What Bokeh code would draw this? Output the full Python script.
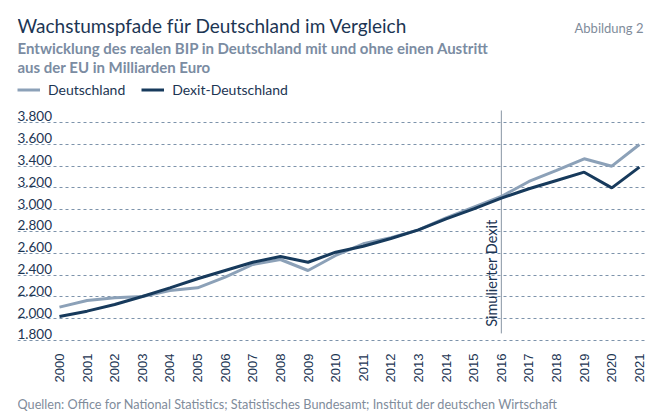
import math
from bokeh.plotting import figure
from bokeh.models import (Label, Legend, LegendItem, FixedTicker, Range1d)
from bokeh.embed import file_html
from bokeh.resources import INLINE

# ---- data ----
years = list(range(2000, 2022))
deutschland = [2106, 2167, 2192, 2204, 2259, 2283, 2381, 2497, 2543, 2442, 2580,
               2687, 2742, 2815, 2925, 3023, 3121, 3259, 3360, 3467, 3399, 3598]
dexit = [2020, 2069, 2130, 2204, 2283, 2366, 2442, 2518, 2571, 2518, 2610,
         2665, 2736, 2815, 2916, 3008, 3106, 3192, 3268, 3344, 3200, 3390]
y_ticks = [1800, 2000, 2200, 2400, 2600, 2800, 3000, 3200, 3400, 3600, 3800]
y_tick_labels = ["1.800", "2.000", "2.200", "2.400", "2.600", "2.800",
                 "3.000", "3.200", "3.400", "3.600", "3.800"]
x_tick_labels = [str(y) for y in years]
dexit_year = 2016

title = "Wachstumspfade für Deutschland im Vergleich"
subtitle1 = "Entwicklung des realen BIP in Deutschland mit und ohne einen Austritt"
subtitle2 = "aus der EU in Milliarden Euro"
fig_no = "Abbildung 2"
source = "Quellen: Office for National Statistics; Statistisches Bundesamt; Institut der deutschen Wirtschaft"
dexit_label = "Simulierter Dexit"

# ---- style ----
NAVY = "#1c3553"
LIGHT = "#8ca1b8"
DARK = "#173a5c"
GREY = "#7f8c9b"
SUB = "#7b8ca2"
FONT = "Lato"

W, H = 660, 414
p = figure(width=W, height=H, output_backend="svg", toolbar_location=None,
           x_range=Range1d(1998.48, 2021.22), y_range=Range1d(1121, 4919),
           min_border_left=17, min_border_right=15, min_border_top=0,
           min_border_bottom=0)
p.outline_line_color = None
p.background_fill_color = None
p.border_fill_color = "white"
p.xaxis.visible = False
p.yaxis.visible = False

# grid
p.xgrid.grid_line_color = None
p.ygrid.ticker = FixedTicker(ticks=y_ticks)
p.ygrid.grid_line_color = "#7d93ab"
p.ygrid.grid_line_dash = "3 3"
p.ygrid.grid_line_width = 1

# dexit marker
p.segment(x0=[dexit_year], y0=[1865], x1=[dexit_year], y1=[3910],
          line_color="#8794a3", line_width=1)
p.add_layout(Label(x=dexit_year, y=1925, text=dexit_label, angle=math.pi / 2,
                   text_align="left", text_baseline="bottom", x_offset=-1,
                   text_font=FONT, text_font_size="14.5px", text_color=NAVY))

r1 = p.line(years, deutschland, line_color=LIGHT, line_width=3)
r2 = p.line(years, dexit, line_color=DARK, line_width=3)

# y tick labels
for v, t in zip(y_ticks, y_tick_labels):
    p.add_layout(Label(x=0, y=v, x_units="screen", y_units="data", text=t,
                       text_align="left", text_baseline="bottom", y_offset=1,
                       text_font=FONT, text_font_size="13.5px", text_color=NAVY))

# x tick labels (vertical)
for yr, t in zip(years, x_tick_labels):
    p.add_layout(Label(x=yr, y=H - 353, x_units="data", y_units="screen", text=t,
                       angle=math.pi / 2, text_align="right", text_baseline="middle",
                       text_font="Liberation Sans", text_font_size="13px",
                       text_color=NAVY))

legend = Legend(items=[LegendItem(label="Deutschland", renderers=[r1]),
                       LegendItem(label="Dexit-Deutschland", renderers=[r2])],
                orientation="horizontal", location=(0, H - 98),
                padding=0, margin=0, spacing=16, glyph_width=23, glyph_height=15,
                label_standoff=8, border_line_color=None, background_fill_alpha=0,
                label_text_font=FONT, label_text_font_size="14px",
                label_text_color=NAVY)
p.add_layout(legend, "center")

# header / footer texts (screen units, origin at frame bottom-left)
p.add_layout(Label(x=0, y=H - 25, x_units="screen", y_units="screen", text=title,
                   text_baseline="middle", text_font=FONT, text_font_size="19px",
                   text_color=NAVY))
p.add_layout(Label(x=626, y=H - 27, x_units="screen", y_units="screen", text=fig_no,
                   text_align="right", text_baseline="middle", text_font=FONT,
                   text_font_size="13px", text_color=GREY))
p.add_layout(Label(x=0, y=H - 47, x_units="screen", y_units="screen", text=subtitle1,
                   text_baseline="middle", text_font=FONT, text_font_size="15px",
                   text_font_style="bold", text_color=SUB))
p.add_layout(Label(x=0, y=H - 66, x_units="screen", y_units="screen", text=subtitle2,
                   text_baseline="middle", text_font=FONT, text_font_size="15px",
                   text_font_style="bold", text_color=SUB))
p.add_layout(Label(x=0, y=H - 403, x_units="screen", y_units="screen", text=source,
                   text_baseline="middle", text_font=FONT, text_font_size="12.7px",
                   text_color=GREY))

open("out.html", "w").write(file_html(p, INLINE))
